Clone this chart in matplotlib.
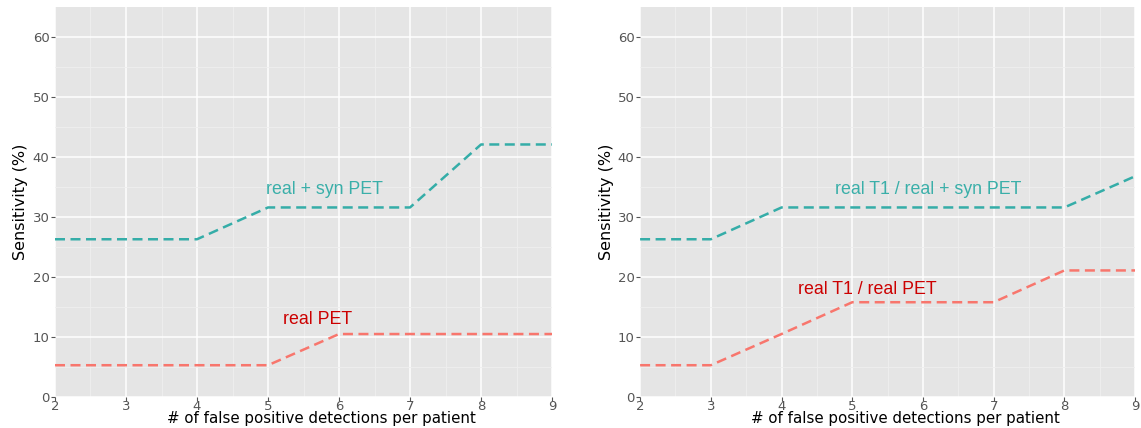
import matplotlib.pyplot as plt
import numpy as np

# Duomenys
fp = [2, 3, 4, 5, 6, 7, 8, 9]
left_syn = [26.3, 26.3, 26.3, 31.6, 31.6, 31.6, 42.1, 42.1]
left_real = [5.3, 5.3, 5.3, 5.3, 10.5, 10.5, 10.5, 10.5]
right_syn = [26.3, 26.3, 31.6, 31.6, 31.6, 31.6, 31.6, 36.8]
right_real = [5.3, 5.3, 10.5, 15.8, 15.8, 15.8, 21.1, 21.1]

teal = '#35ADA8'
salmon = '#F8766D'
teal_txt = '#3AAFA9'
red_txt = '#CC0000'

fig = plt.figure(figsize=(11.41, 4.28), dpi=100)
ax1 = fig.add_axes([0.0482, 0.0724, 0.4356, 0.911])
ax2 = fig.add_axes([0.561, 0.0724, 0.4338, 0.911])


def panel(ax, syn, real, syn_lbl, syn_pos, real_lbl, real_pos):
    ax.set_facecolor('#E5E5E5')
    for s in ax.spines.values():
        s.set_visible(False)
    ax.set_xlim(2, 9)
    ax.set_ylim(0, 65)
    ax.set_xticks(range(2, 10))
    ax.set_yticks(range(0, 61, 10))
    ax.set_xticks(np.arange(2.5, 9, 1), minor=True)
    ax.set_yticks(np.arange(5, 65, 10), minor=True)
    ax.grid(which='major', color='white', linewidth=1.1)
    ax.grid(which='minor', color='#EFEFEF', linewidth=0.6)
    ax.set_axisbelow(True)
    ax.tick_params(which='major', colors='#555555', labelsize=9.5, length=3, pad=1)
    ax.tick_params(which='minor', length=0)
    ax.tick_params(axis='x', pad=-1)

    ax.plot(fp, syn, color=teal, linestyle=(0, (4, 2.2)), linewidth=1.8)
    ax.plot(fp, real, color=salmon, linestyle=(0, (4, 2.2)), linewidth=1.8)

    ax.text(syn_pos[0], syn_pos[1], syn_lbl, color=teal_txt, fontsize=12.8,
            family='Liberation Sans', ha='center', va='center')
    ax.text(real_pos[0], real_pos[1], real_lbl, color=red_txt, fontsize=12.8,
            family='Liberation Sans', ha='center', va='center')

    ax.set_xlabel('# of false positive detections per patient', fontsize=10.8, labelpad=0)
    ax.xaxis.set_label_coords(0.537, -0.035, transform=ax.transAxes)
    ax.xaxis.label.set_va('top')
    ax.set_ylabel('Sensitivity (%)', fontsize=11.5, labelpad=3)


panel(ax1, left_syn, left_real, 'real + syn PET', (5.8, 34.6), 'real PET', (5.7, 13.0))
panel(ax2, right_syn, right_real, 'real T1 / real + syn PET', (6.08, 34.6),
      'real T1 / real PET', (5.22, 18.0))

plt.savefig('out.png', dpi=100)
